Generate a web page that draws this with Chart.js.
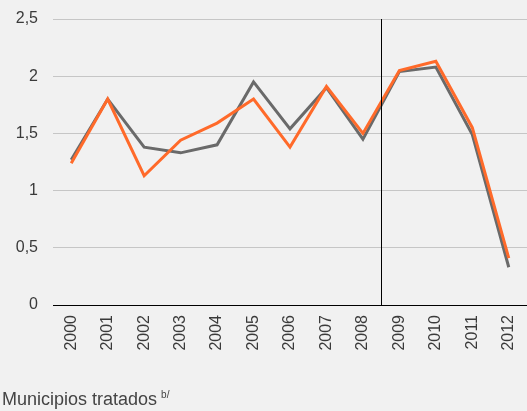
<!DOCTYPE html>
<html>
<head>
<meta charset="utf-8">
<script src="https://cdn.jsdelivr.net/npm/chart.js@4/dist/chart.umd.min.js"></script>
<style>
  html, body { margin: 0; padding: 0; background: #f1f1f1; }
  #wrap { position: relative; width: 527px; height: 411px; }
  #caption {
    position: absolute; left: 2px; top: 389px;
    font-family: "Liberation Sans", Arial, sans-serif; font-size: 18px; color: #444;
  }
  #caption sup { font-size: 10px; vertical-align: 7px; margin-left: 4px; }
</style>
</head>
<body>
<div id="wrap">
  <canvas id="chart" width="527" height="411"></canvas>
  <div id="caption">Municipios tratados<sup>b/</sup></div>
</div>
<script>
// datos
const years = ['2000','2001','2002','2003','2004','2005','2006','2007','2008','2009','2010','2011','2012'];
const serieNaranja = [1.24, 1.80, 1.13, 1.44, 1.59, 1.80, 1.38, 1.91, 1.50, 2.05, 2.13, 1.55, 0.41];
const serieGris = [1.27, 1.80, 1.38, 1.33, 1.40, 1.95, 1.54, 1.90, 1.45, 2.04, 2.08, 1.49, 0.33];
const yTicks = [0, 0.5, 1, 1.5, 2, 2.5];
// la linea vertical va entre estos dos años
const corteEntre = ['2008', '2009'];

const lineaCorte = {
    id: 'lineaCorte',
    afterDatasetsDraw(chart) {
        const x = chart.scales.x;
        const area = chart.chartArea;
        const px = (x.getPixelForValue(years.indexOf(corteEntre[0])) + x.getPixelForValue(years.indexOf(corteEntre[1]))) / 2;
        const ctx = chart.ctx;
        ctx.save();
        ctx.strokeStyle = '#000';
        ctx.lineWidth = 1;
        ctx.beginPath();
        ctx.moveTo(Math.round(px) + 0.5, area.top);
        ctx.lineTo(Math.round(px) + 0.5, area.bottom);
        ctx.stroke();
        ctx.restore();
    }
};

const ctx = document.getElementById('chart').getContext('2d');
new Chart(ctx, {
    type: 'line',
    data: {
        labels: years,
        datasets: [
            { data: serieNaranja, borderColor: '#ff6a2a', borderWidth: 3, pointRadius: 0, tension: 0 },
            { data: serieGris, borderColor: '#6a6a6a', borderWidth: 3, pointRadius: 0, tension: 0 }
        ]
    },
    options: {
        responsive: false,
        animation: false,
        layout: { padding: { top: 19, right: 0, bottom: 0, left: 0 } },
        plugins: { legend: { display: false }, tooltip: { enabled: false } },
        scales: {
            x: {
                offset: true,
                grid: { display: false, drawTicks: false },
                border: { display: true, color: '#000', width: 1 },
                ticks: {
                    maxRotation: 90, minRotation: 90, padding: 10,
                    color: '#3a3a3a', font: { family: '"Liberation Sans", Arial, sans-serif', size: 16 }
                },
                afterFit(scale) {
                    scale.height = 106;
                    scale.paddingLeft = 0;
                    scale.paddingRight = 0;
                }
            },
            y: {
                min: 0, max: 2.5,
                afterBuildTicks(scale) { scale.ticks = yTicks.map(v => ({ value: v })); },
                grid: { color: '#c6c6c6', lineWidth: 1, drawTicks: false },
                border: { display: false },
                ticks: {
                    padding: 15,
                    color: '#3a3a3a', font: { family: '"Liberation Sans", Arial, sans-serif', size: 16 },
                    callback: v => String(v).replace('.', ',')
                },
                afterFit(scale) {
                    scale.width = 53;
                    scale.paddingTop = 0;
                    scale.paddingBottom = 0;
                }
            }
        }
    },
    plugins: [lineaCorte]
});
</script>
</body>
</html>
